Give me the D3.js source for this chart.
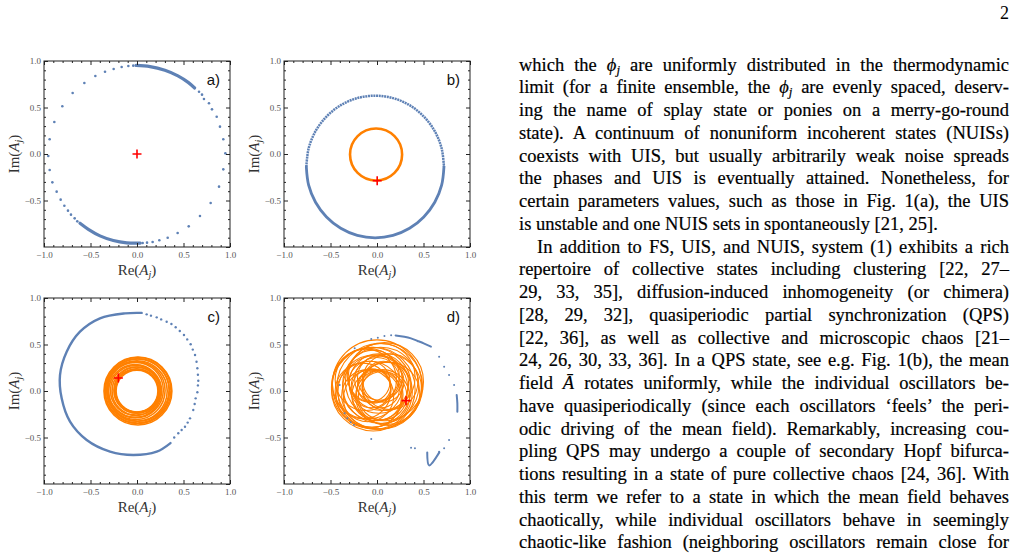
<!DOCTYPE html>
<html>
  <head>
    <meta charset="utf-8">
    <title>Mean field and oscillators</title>
    <script src="https://cdn.jsdelivr.net/npm/d3@7"></script>
    <style>
      body { margin: 0; background: #fff; }
      #page { position: absolute; left: 0; top: 0; }
      .frame { fill: none; stroke: #222; stroke-width: 1; }
      .axis path { display: none; }
      .axis line { stroke: #222; }
      .axis text { font-family: "Liberation Serif", serif; font-size: 9px; fill: #555; }
      .title { font-family: "Liberation Serif", serif; font-size: 15px; fill: #333; }
      .tag { font-family: "Liberation Sans", Arial, sans-serif; font-size: 15px; fill: #111; }
      #text { position: absolute; left: 519px; top: 0; width: 490px; }
      .line { position: absolute; left: 0; white-space: nowrap;
              font-family: "Liberation Serif", serif; font-size: 18.5px; color: #000; line-height: 22.75px;
              -webkit-text-stroke: 0.2px #000; }
      .line sub { font-size: 70%; vertical-align: -0.25em; line-height: 0; }
      #pageno { position: absolute; right: 8px; top: 3px; font-family: "Liberation Serif", serif; font-size: 18px; color: #000; }
    </style>
  </head>

  <body>
    <svg id="page" width="1017" height="553"></svg>
    <div id="text"></div>
    <div id="pageno">2</div>

    <script>
      // ticks
      majorTicks = [-1, -0.5, 0, 0.5, 1];
      yLabelTicks = [-0.5, 0, 0.5, 1];
      minorTicks = [-0.9, -0.8, -0.7, -0.6, -0.4, -0.3, -0.2, -0.1, 0.1, 0.2, 0.3, 0.4, 0.6, 0.7, 0.8, 0.9];
      panelTags = ["a)", "b)", "c)", "d)"];

      // panel a: oscillators (Re, Im) and mean field
      aSparse = [[-0.954,-0.022],[-0.939,0.158],[-0.939,-0.172],[-0.910,-0.305],[-0.889,0.344],[-0.864,-0.405],
        [-0.821,-0.491],[-0.803,0.513],[-0.781,-0.556],[-0.742,-0.609],[-0.710,-0.652],[-0.692,0.656],[-0.670,-0.692],
        [-0.642,-0.724],[-0.566,0.763],[-0.448,0.839],[-0.344,0.885],[-0.251,0.914],[-0.165,0.935],[-0.093,0.946],
        [-0.04,0.95],[0.667,0.670],[0.699,0.638],[0.720,0.591],[0.774,0.545],[0.806,0.480],[0.857,0.401],[0.892,0.294],
        [0.928,0.158],[0.950,0.007],[0.928,-0.165],[0.882,-0.351],[0.792,-0.527],[0.677,-0.667],[0.556,-0.778],
        [0.437,-0.849],[0.330,-0.900],[0.240,-0.928],[0.168,-0.946],[0.108,-0.953],[0.061,-0.957]];
      aDenseTop = [[-0.01,0.952],[0.14,0.94],[0.30,0.90],[0.44,0.84],[0.55,0.77],[0.62,0.71]];
      aDenseBottom = [[0.035,-0.958],[-0.11,-0.955],[-0.255,-0.93],[-0.398,-0.88],[-0.523,-0.81],[-0.613,-0.745]];
      aMean = [0, 0];

      // panel b
      bRingUpper = [[-0.76,-0.137],[-0.735,0.061],[-0.661,0.245],[-0.543,0.403],[-0.39,0.525],[-0.212,0.601],
        [-0.02,0.627],[0.172,0.601],[0.35,0.525],[0.503,0.403],[0.621,0.245],[0.695,0.061],[0.72,-0.137]];
      bRingLower = [[0.72,-0.137],[0.695,-0.335],[0.621,-0.519],[0.503,-0.677],[0.35,-0.799],[0.172,-0.875],
        [-0.02,-0.901],[-0.212,-0.875],[-0.39,-0.799],[-0.543,-0.677],[-0.661,-0.519],[-0.735,-0.335],[-0.76,-0.137]];
      bOrbits = [[-0.01,-0.005,0.28]];
      bMean = [0.002, -0.287];

      // panel c
      cDense = [[0.05,0.84],[-0.129,0.835],[-0.398,0.782],[-0.613,0.638],[-0.756,0.423],[-0.828,0.172],[-0.81,-0.079],
        [-0.72,-0.33],[-0.541,-0.527],[-0.29,-0.652],[-0.04,-0.688],[0.212,-0.652],[0.36,-0.56]];
      cSparse = [[0.104,0.824],[0.15,0.81],[0.212,0.792],[0.26,0.77],[0.319,0.745],[0.37,0.72],[0.416,0.685],[0.46,0.645],
        [0.505,0.602],[0.54,0.555],[0.577,0.502],[0.60,0.445],[0.624,0.387],[0.64,0.315],[0.649,0.244],[0.655,0.175],
        [0.659,0.111],[0.655,0.06],[0.649,-0.014],[0.631,-0.079],[0.62,-0.14],[0.605,-0.204],[0.57,-0.294],[0.545,-0.34],
        [0.516,-0.384],[0.48,-0.42],[0.444,-0.455],[0.40,-0.50]];
      cOrbits = [[0.01,0.0,0.365],[0.01,0.005,0.355],[0.005,0.0,0.345],[0.01,0.01,0.335],[0.0,0.0,0.325],
        [-0.01,0.005,0.312],[-0.015,0.01,0.298],[-0.02,0.0,0.284],[-0.015,0.005,0.27],[-0.01,0.0,0.258],
        [0.0,0.01,0.248],[-0.005,0.0,0.24],[0.0,0.005,0.232],[0.0,0.0,0.225]];
      cMean = [-0.20, 0.14];

      // panel d
      dSparse = [[-0.062,0.559],[0.009,0.573],[0.08,0.591],[0.152,0.599],[0.668,0.369],[0.722,0.262],[0.775,0.172],
        [0.829,0.065],[0.775,-0.527],[0.722,-0.616],[0.668,-0.652],[0.366,-0.609],[0.408,-0.616],[-0.062,-0.516],
        [-0.348,-0.24],[-0.319,-0.294],[-0.283,-0.337],[-0.248,-0.366],[-0.24,0.459],[-0.401,0.065]];
      dDenseTop = [[0.20,0.598],[0.294,0.584],[0.366,0.566],[0.437,0.538],[0.508,0.509],[0.58,0.477]];
      dDenseRight = [[0.857,-0.043],[0.864,-0.133],[0.864,-0.222]];
      dHook = [[0.54,-0.66],[0.56,-0.80],[0.67,-0.66]];
      dOrbits = [[0.00,0.07,0.48],[0.03,0.05,0.46],[-0.06,0.04,0.43],[0.08,0.10,0.42],[-0.02,-0.01,0.40],
        [0.10,0.02,0.38],[-0.10,0.08,0.38],[0.05,0.15,0.36],[-0.08,-0.04,0.36],[0.12,-0.03,0.34],[-0.12,0.12,0.33],
        [0.02,0.08,0.32],[-0.05,-0.08,0.31],[0.14,0.10,0.30],[-0.15,0.00,0.30],[0.06,-0.06,0.29],[-0.04,0.16,0.28],
        [0.10,0.05,0.26],[-0.10,-0.05,0.28],[0.00,0.12,0.24],[0.06,-0.05,0.26],[-0.08,0.10,0.22],[0.04,0.02,0.20],
        [-0.03,0.05,0.18],[0.07,0.10,0.22],[-0.06,0.03,0.21],[0.03,0.14,0.24],[0.0,-0.05,0.27],[-0.02,0.03,0.35],
        [0.04,0.06,0.41],[-0.04,0.02,0.45]];
      dMean = [0.312, -0.104];

      // body text
      bodyLines = [
        "which the <i>ϕ<sub>j</sub></i> are uniformly distributed in the thermodynamic",
        "limit (for a finite ensemble, the <i>ϕ<sub>j</sub></i> are evenly spaced, deserv-",
        "ing the name of splay state or ponies on a merry-go-round",
        "state). A continuum of nonuniform incoherent states (NUISs)",
        "coexists with UIS, but usually arbitrarily weak noise spreads",
        "the phases and UIS is eventually attained. Nonetheless, for",
        "certain parameters values, such as those in Fig. 1(a), the UIS",
        "is unstable and one NUIS sets in spontaneously [21, 25].",
        "In addition to FS, UIS, and NUIS, system (1) exhibits a rich",
        "repertoire of collective states including clustering [22, 27–",
        "29, 33, 35], diffusion-induced inhomogeneity (or chimera)",
        "[28, 29, 32], quasiperiodic partial synchronization (QPS)",
        "[22, 36], as well as collective and microscopic chaos [21–",
        "24, 26, 30, 33, 36]. In a QPS state, see e.g. Fig. 1(b), the mean",
        "field <i>Ā</i> rotates uniformly, while the individual oscillators be-",
        "have quasiperiodically (since each oscillators ‘feels’ the peri-",
        "odic driving of the mean field). Remarkably, increasing cou-",
        "pling QPS may undergo a couple of secondary Hopf bifurca-",
        "tions resulting in a state of pure collective chaos [24, 36]. With",
        "this term we refer to a state in which the mean field behaves",
        "chaotically, while individual oscillators behave in seemingly",
        "chaotic-like fashion (neighboring oscillators remain close for"
      ];
      paragraphEnds = [7];
      paragraphStarts = [8];

      blue = "#5E81B5";
      orange = "#FF8000";
      size = 186;

      panels = [
        { left: 44, top: 61, sparse: aSparse, dense: [aDenseTop, aDenseBottom], orbits: [], mean: aMean, r: 1.3, dw: 3.2 },
        { left: 284, top: 61, sparse: [], dotted: [bRingUpper], dense: [bRingLower], orbits: bOrbits, mean: bMean, ow: 2.6, dw: 2.8 },
        { left: 44, top: 298, sparse: cSparse, dense: [cDense], orbits: cOrbits, mean: cMean, r: 1.2, ow: 1.6, dw: 2.4 },
        { left: 284, top: 298, sparse: dSparse, dense: [dDenseTop, dDenseRight, dHook], orbits: dOrbits, mean: dMean, r: 1.0, ow: 1.1, dw: 2 }
      ];

      svg = d3.select("#page");

      panels.forEach(function(p, i) {
        let x = d3.scaleLinear().domain([-1, 1]).range([p.left, p.left + size]);
        let y = d3.scaleLinear().domain([-1, 1]).range([p.top + size, p.top]);
        let g = svg.append("g");
        let line = d3.line()
          .x(function(d) { return x(d[0]); })
          .y(function(d) { return y(d[1]); })
          .curve(d3.curveCatmullRom);

        // mean field trajectory
        g.selectAll(".orbit")
            .data(p.orbits)
          .enter().append("ellipse")
            .attr("cx", function(d) { return x(d[0]); })
            .attr("cy", function(d) { return y(d[1]); })
            .attr("rx", function(d) { return x(d[2]) - x(0); })
            .attr("ry", function(d) { return y(0) - y(d[2]); })
            .style("fill", "none")
            .style("stroke", orange)
            .style("stroke-width", p.ow || 1.5);

        // oscillators
        g.selectAll(".dense")
            .data(p.dense)
          .enter().append("path")
            .attr("d", line)
            .style("fill", "none")
            .style("stroke", blue)
            .style("stroke-linecap", "round")
            .style("stroke-width", p.dw || 3);
        g.selectAll(".dotted")
            .data(p.dotted || [])
          .enter().append("path")
            .attr("d", line)
            .style("fill", "none")
            .style("stroke", blue)
            .style("stroke-dasharray", "2 0.7")
            .style("stroke-width", 2.5);
        g.selectAll(".dot")
            .data(p.sparse)
          .enter().append("circle")
            .attr("cx", function(d) { return x(d[0]); })
            .attr("cy", function(d) { return y(d[1]); })
            .attr("r", p.r || 1.2)
            .style("fill", blue);

        // mean field marker
        let mx = x(p.mean[0]), my = y(p.mean[1]);
        g.append("path")
          .attr("d", "M" + (mx - 4.5) + "," + my + "H" + (mx + 4.5) + "M" + mx + "," + (my - 4.5) + "V" + (my + 4.5))
          .style("stroke", "red")
          .style("stroke-width", 1.6);

        // axes
        let fmt = d3.format(".1f");
        g.append("g").attr("class", "axis")
          .attr("transform", "translate(0," + (p.top + size) + ")")
          .call(d3.axisBottom(x).tickValues(majorTicks).tickSizeInner(-4).tickSizeOuter(0).tickPadding(5).tickFormat(fmt));
        g.append("g").attr("class", "axis")
          .attr("transform", "translate(0," + (p.top + size) + ")")
          .call(d3.axisBottom(x).tickValues(minorTicks).tickSizeInner(-2).tickSizeOuter(0).tickFormat(""));
        g.append("g").attr("class", "axis")
          .attr("transform", "translate(" + p.left + ",0)")
          .call(d3.axisLeft(y).tickValues(yLabelTicks).tickSizeInner(-4).tickSizeOuter(0).tickPadding(3).tickFormat(fmt));
        g.append("g").attr("class", "axis")
          .attr("transform", "translate(" + p.left + ",0)")
          .call(d3.axisLeft(y).tickValues(minorTicks).tickSizeInner(-2).tickSizeOuter(0).tickFormat(""));
        g.append("g").attr("class", "axis")
          .attr("transform", "translate(0," + p.top + ")")
          .call(d3.axisTop(x).tickValues(majorTicks).tickSizeInner(-4).tickSizeOuter(0).tickFormat(""));
        g.append("g").attr("class", "axis")
          .attr("transform", "translate(0," + p.top + ")")
          .call(d3.axisTop(x).tickValues(minorTicks).tickSizeInner(-2).tickSizeOuter(0).tickFormat(""));
        g.append("g").attr("class", "axis")
          .attr("transform", "translate(" + (p.left + size) + ",0)")
          .call(d3.axisRight(y).tickValues(majorTicks).tickSizeInner(-4).tickSizeOuter(0).tickFormat(""));
        g.append("g").attr("class", "axis")
          .attr("transform", "translate(" + (p.left + size) + ",0)")
          .call(d3.axisRight(y).tickValues(minorTicks).tickSizeInner(-2).tickSizeOuter(0).tickFormat(""));

        g.append("rect").attr("class", "frame")
          .attr("x", p.left).attr("y", p.top).attr("width", size).attr("height", size);

        // panel tag
        g.append("text").attr("class", "tag")
          .attr("x", p.left + size - 10).attr("y", p.top + 24)
          .attr("text-anchor", "end")
          .text(panelTags[i]);

        // axis titles
        let re = g.append("text").attr("class", "title")
          .attr("x", p.left + size / 2).attr("y", p.top + size + 28)
          .attr("text-anchor", "middle");
        re.append("tspan").text("Re(");
        re.append("tspan").style("font-style", "italic").text("A");
        re.append("tspan").style("font-style", "italic").style("font-size", "10px").attr("dy", 3).text("j");
        re.append("tspan").attr("dy", -3).text(")");

        let im = g.append("text").attr("class", "title")
          .attr("transform", "translate(" + (p.left - 25) + "," + (p.top + size / 2) + ") rotate(-90)")
          .attr("text-anchor", "middle");
        im.append("tspan").text("Im(");
        im.append("tspan").style("font-style", "italic").text("A");
        im.append("tspan").style("font-style", "italic").style("font-size", "10px").attr("dy", 3).text("j");
        im.append("tspan").attr("dy", -3).text(")");
      });

      // body text, justified line by line
      textBox = d3.select("#text");
      lineTop = 53.5;
      lineStep = 22.75;
      textWidth = 490;
      indent = 18;

      bodyLines.forEach(function(html, i) {
        let left = paragraphStarts.includes(i) ? indent : 0;
        let div = textBox.append("div")
          .attr("class", "line")
          .style("top", (lineTop + i * lineStep) + "px")
          .style("left", left + "px");
        let span = div.append("span").html(html);
        if (!paragraphEnds.includes(i)) {
          let natural = span.node().getBoundingClientRect().width;
          let spaces = span.node().textContent.split(" ").length - 1;
          span.style("word-spacing", ((textWidth - left - natural) / spaces) + "px");
        }
      });
    </script>
  </body>
</html>
